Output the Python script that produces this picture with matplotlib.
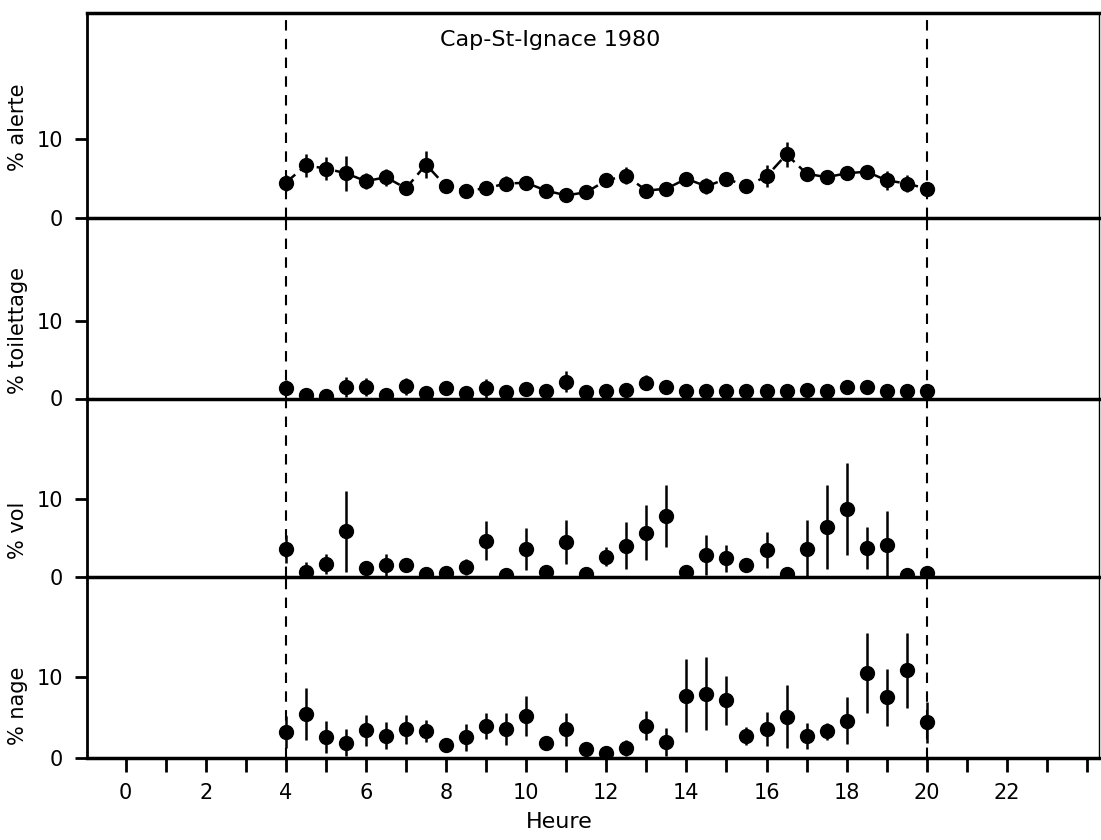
import matplotlib.pyplot as plt
from matplotlib.ticker import FixedLocator

heures = [4.0, 4.5, 5.0, 5.5, 6.0, 6.5, 7.0, 7.5, 8.0, 8.5, 9.0, 9.5, 10.0, 10.5,
          11.0, 11.5, 12.0, 12.5, 13.0, 13.5, 14.0, 14.5, 15.0, 15.5, 16.0, 16.5,
          17.0, 17.5, 18.0, 18.5, 19.0, 19.5, 20.0]

alerte = [4.5, 6.7, 6.3, 5.7, 4.7, 5.2, 3.8, 6.8, 4.05, 3.5, 3.8, 4.4, 4.5, 3.5,
          2.9, 3.3, 4.8, 5.4, 3.5, 3.75, 5.0, 4.05, 5.0, 4.1, 5.3, 8.1,
          5.65, 5.2, 5.7, 5.9, 4.8, 4.4, 3.75]
alerte_err = [1.0, 1.5, 1.5, 2.2, 1.0, 1.1, 0.3, 1.7, 0.5, 0.5, 0.5, 0.9, 0.8, 0.5,
              0.4, 0.5, 0.8, 1.1, 0.5, 0.8, 0.6, 1.0, 0.9, 0.8, 1.4, 1.6,
              0.6, 0.8, 0.9, 0.7, 1.2, 1.1, 0.8]

toilettage = [1.4, 0.45, 0.3, 1.5, 1.5, 0.45, 1.6, 0.7, 1.3, 0.7, 1.3, 0.9, 1.2, 1.0,
              2.2, 0.9, 1.0, 1.1, 2.05, 1.45, 0.95, 1.0, 0.95, 0.95, 0.95, 0.95,
              1.1, 0.95, 1.45, 1.45, 0.95, 0.95, 0.95]
toilettage_err = [1.0, 0.2, 0.2, 1.3, 1.2, 0.2, 1.1, 0.3, 0.3, 0.2, 1.2, 0.3, 0.4, 0.3,
                  1.4, 0.3, 0.3, 0.3, 1.0, 0.4, 0.2, 0.2, 0.2, 0.2, 0.2, 0.2,
                  0.3, 0.2, 0.3, 0.4, 0.2, 0.2, 0.2]

vol = [3.6, 0.7, 1.65, 5.85, 1.1, 1.55, 1.6, 0.4, 0.5, 1.3, 4.65, 0.3, 3.55, 0.6,
       4.45, 0.35, 2.6, 4.0, 5.7, 7.8, 0.6, 2.85, 2.4, 1.5, 3.45, 0.4,
       3.65, 6.4, 8.75, 3.7, 4.15, 0.3, 0.5]
vol_err = [1.8, 1.2, 1.3, 5.2, 0.4, 1.4, 0.5, 0.2, 0.2, 1.0, 2.5, 0.2, 2.7, 0.3,
           2.8, 0.2, 1.2, 3.0, 3.5, 4.0, 0.3, 2.6, 1.7, 0.4, 2.3, 0.2,
           3.7, 5.4, 5.9, 2.7, 4.3, 0.2, 0.3]

nage = [3.2, 5.45, 2.6, 1.9, 3.4, 2.75, 3.55, 3.35, 1.55, 2.55, 3.9, 3.55, 5.15, 1.85,
        3.55, 1.05, 0.65, 1.25, 4.0, 1.95, 7.7, 7.9, 7.1, 2.75, 3.55, 5.1,
        2.7, 3.3, 4.6, 10.45, 7.5, 10.8, 4.4]
nage_err = [2.0, 3.2, 2.0, 1.7, 1.9, 1.7, 1.8, 1.35, 0.5, 1.7, 1.6, 2.0, 2.5, 0.4,
            2.05, 0.3, 0.3, 1.0, 1.8, 1.7, 4.5, 4.5, 3.0, 1.1, 2.1, 3.9,
            1.6, 1.05, 2.9, 4.95, 3.5, 4.6, 2.5]

panneaux = [
    ('% alerte', alerte, alerte_err, 26.05, 0.44, True),
    ('% toilettage', toilettage, toilettage_err, 23.4, 0.38, False),
    ('% vol', vol, vol_err, 22.9, 0.26, False),
    ('% nage', nage, nage_err, 22.3, 0.29, False),
]

plt.rcParams['font.family'] = ['DejaVu Sans']

fig = plt.figure(figsize=(11.01, 8.4), dpi=100)
left, right = 86.7 / 1101, 1099 / 1101
bords = [12.5, 218.3, 398.5, 577.0, 758.0]

axes = []
for i, (label, vals, errs, ytop, ylab_y, relie) in enumerate(panneaux):
    top = 1 - bords[i] / 840
    bottom = 1 - bords[i + 1] / 840
    ax = fig.add_axes([left, bottom, right - left, top - bottom])
    ax.patch.set_visible(False)
    ax.set_zorder(10 - i)
    axes.append(ax)

    ax.errorbar(heures, vals, yerr=errs, fmt='o', color='black', markersize=10,
                elinewidth=1.8, capsize=0, zorder=3)
    if relie:
        ax.plot(heures, vals, color='black', linewidth=1.8,
                linestyle=(0, (5, 2.5)), zorder=2)

    for xv in (4, 20):
        ax.axvline(xv, color='black', linewidth=1.5, linestyle=(0, (5, 4)), zorder=1)

    ax.set_xlim(-0.97, 24.3)
    ax.set_ylim(0, ytop)
    ax.set_yticks([0, 10])
    ax.set_yticklabels(['0', '10'], fontsize=15)
    ax.tick_params(axis='y', direction='out', length=9, width=2, pad=8)

    ax.spines['left'].set_linewidth(2)
    ax.spines['bottom'].set_linewidth(2.5)
    ax.spines['right'].set_linewidth(1.0)
    if i == 0:
        ax.spines['top'].set_linewidth(2.5)
    else:
        ax.spines['top'].set_visible(False)

    ax.set_ylabel(label, fontsize=15)
    ax.yaxis.set_label_coords(-0.058, ylab_y)

    if i < 3:
        ax.tick_params(axis='x', bottom=False, labelbottom=False)
    else:
        ax.xaxis.set_major_locator(FixedLocator(list(range(0, 23, 2))))
        ax.set_xticklabels([str(h) for h in range(0, 23, 2)], fontsize=15)
        ax.xaxis.set_minor_locator(FixedLocator([1, 3, 5, 7, 9, 11, 13, 15, 17, 19, 21, 23, 24]))
        ax.tick_params(axis='x', which='both', direction='out', length=10, width=2, pad=8)

axes[0].text(0.458, 0.866, 'Cap-St-Ignace 1980', transform=axes[0].transAxes,
             ha='center', va='center', fontsize=16)

fig.text(559 / 1101, 1 - 822 / 840, 'Heure', ha='center', va='center', fontsize=16)

fig.savefig('out.png', dpi=100)
